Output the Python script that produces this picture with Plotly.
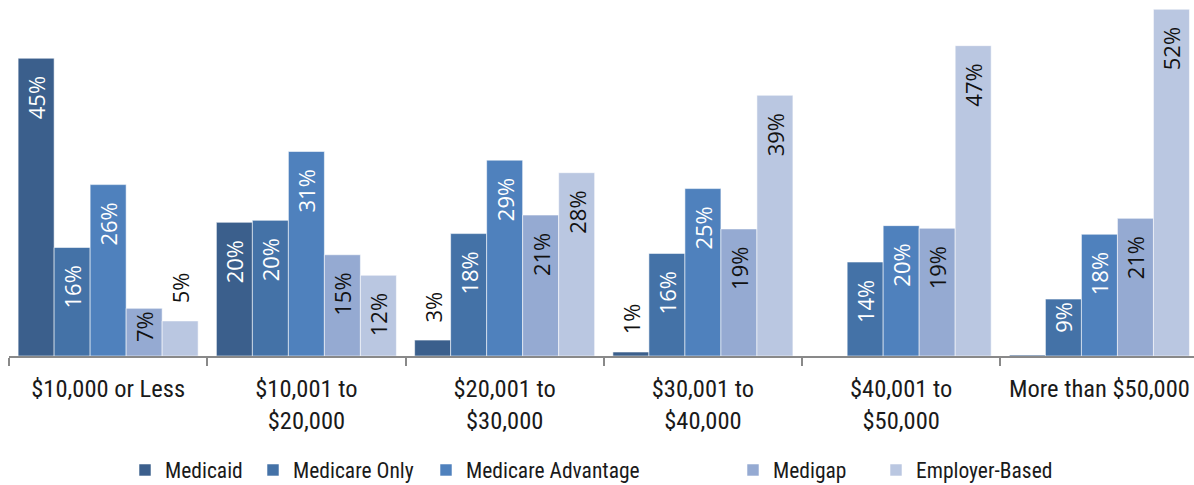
import plotly.graph_objects as go

categories = ["$10,000 or Less", "$10,001 to<br>$20,000", "$20,001 to<br>$30,000",
              "$30,001 to<br>$40,000", "$40,001 to<br>$50,000", "More than $50,000"]

series_names = ["Medicaid", "Medicare Only", "Medicare Advantage", "Medigap", "Employer-Based"]

# bar heights (percent)
medicaid = [45.0, 20.2, 2.4, 0.6, 0.0, 0.15]
medicare_only = [16.4, 20.5, 18.5, 15.5, 14.2, 8.6]
medicare_advantage = [25.9, 30.9, 29.6, 25.3, 19.7, 18.4]
medigap = [7.2, 15.3, 21.3, 19.2, 19.3, 20.8]
employer_based = [5.3, 12.2, 27.7, 39.4, 46.9, 52.4]

# printed data labels
medicaid_labels = [45, 20, 3, 1, None, None]
medicare_only_labels = [16, 20, 18, 16, 14, 9]
medicare_advantage_labels = [26, 31, 29, 25, 20, 18]
medigap_labels = [7, 15, 21, 19, 19, 21]
employer_based_labels = [5, 12, 28, 39, 47, 52]

values = [medicaid, medicare_only, medicare_advantage, medigap, employer_based]
labels = [medicaid_labels, medicare_only_labels, medicare_advantage_labels,
          medigap_labels, employer_based_labels]

colors = ["#3B5F8C", "#4472A7", "#4F81BD", "#95AAD2", "#BAC7E1"]
inside_text_colors = ["white", "white", "white", "#111111", "#111111"]

# legend placement (left edge in window pixels) per series
legend_px = [125, 253, 426, 733, 876]

LABEL_FONT = "Open Sans, Noto Sans, sans-serif"
AXIS_FONT = "Liberation Sans Narrow, Arial Narrow, Roboto Condensed, Liberation Sans, sans-serif"
PAD = "\u2002\u2009"
W, H = 1194, 485

fig = go.Figure()
legend_layouts = {}
for i, name in enumerate(series_names):
    texts, positions, tcolors = [], [], []
    for v, lab in zip(values[i], labels[i]):
        if lab is None:
            texts.append("")
            positions.append("none")
            tcolors.append("#111111")
        elif v < 6:
            texts.append(PAD + f"{lab}%")
            positions.append("outside")
            tcolors.append("#111111")
        elif v < 10:
            texts.append(f"{lab}%")
            positions.append("inside")
            tcolors.append(inside_text_colors[i])
        else:
            texts.append(f"{lab}%" + PAD)
            positions.append("inside")
            tcolors.append(inside_text_colors[i])
    lg = "legend" if i == 0 else f"legend{i + 1}"
    fig.add_trace(go.Bar(
        x=categories, y=values[i], name=name, legend=lg,
        marker=dict(color=colors[i], line=dict(color="rgba(255,255,255,0.55)", width=1)),
        text=texts, textposition=positions, textangle=-90,
        insidetextanchor="end", constraintext="none", cliponaxis=False,
        textfont=dict(family=LABEL_FONT, size=22, color=tcolors),
        hoverinfo="skip",
    ))
    legend_layouts[lg] = dict(
        orientation="h", xref="container", x=legend_px[i] / W, xanchor="left",
        yref="container", y=1 - 470 / H, yanchor="middle",
        font=dict(family=AXIS_FONT, size=21.5, color="#1a1a1a"),
        bgcolor="rgba(0,0,0,0)",
    )

fig.update_layout(
    width=W, height=H,
    margin=dict(l=9, r=0, t=0, b=129),
    barmode="group", bargap=0.092, bargroupgap=0,
    plot_bgcolor="white", paper_bgcolor="white",
    font=dict(family=AXIS_FONT, size=24.5, color="#1a1a1a"),
    showlegend=True,
    xaxis=dict(range=[-0.5, 5.477], showline=True, linecolor="#898989", linewidth=2,
               ticks="outside", tickson="boundaries", ticklen=8, tickwidth=2,
               tickcolor="#898989", showgrid=False, zeroline=False,
               ticklabelstandoff=10,
               tickfont=dict(family=AXIS_FONT, size=24.5, color="#1a1a1a")),
    yaxis=dict(range=[0, 53.8], visible=False, showgrid=False, zeroline=False),
    **legend_layouts,
)

fig.write_html("out.html", config={"displayModeBar": False, "staticPlot": True},
               post_script="document.body.style.margin='0';")
